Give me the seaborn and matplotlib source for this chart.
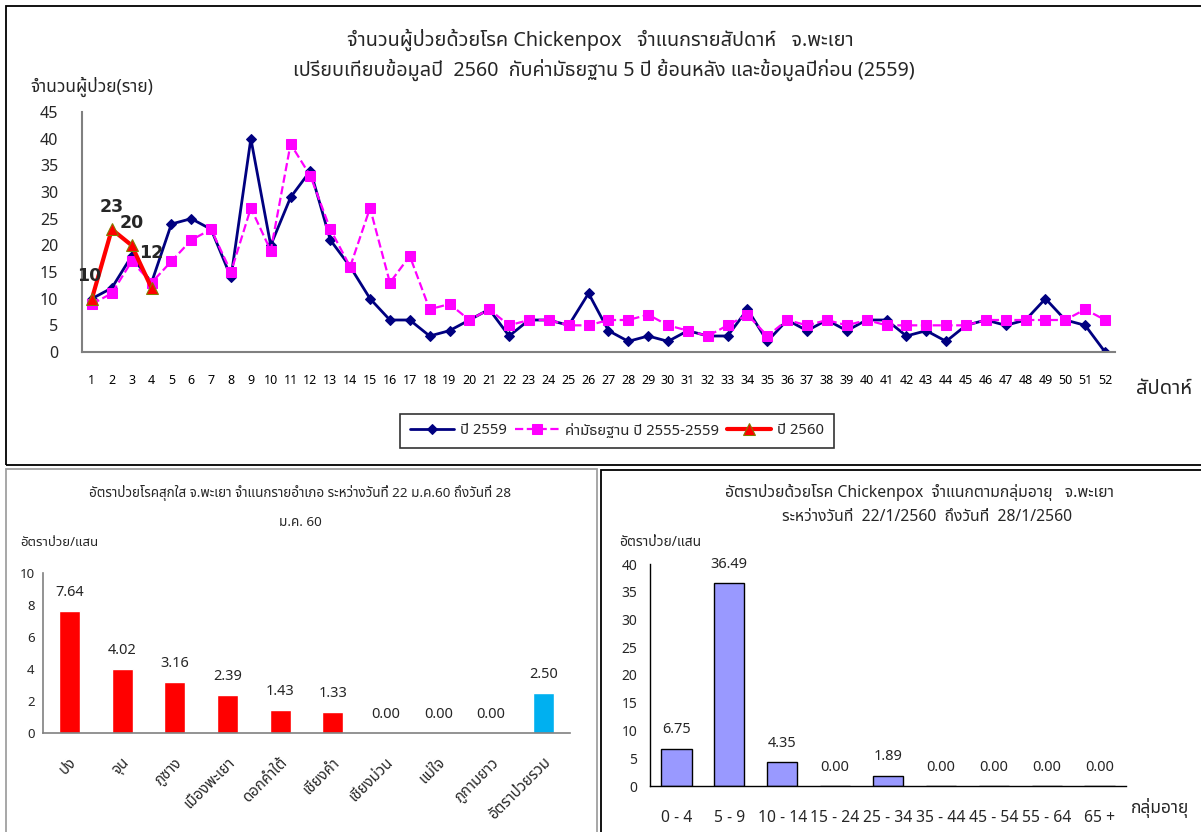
import matplotlib
matplotlib.use("Agg")
import matplotlib.pyplot as plt
import seaborn as sns
import numpy as np
import pandas as pd
from matplotlib import font_manager
from matplotlib.patches import Rectangle

# ---------------- data ----------------
weeks = list(range(1, 53))
y2559 = [10, 12, 18, 13, 24, 25, 23, 14, 40, 20, 29, 34, 21, 16, 10, 6, 6, 3, 4, 6,
         8, 3, 6, 6, 5, 11, 4, 2, 3, 2, 4, 3, 3, 8, 2, 6, 4, 6, 4, 6,
         6, 3, 4, 2, 5, 6, 5, 6, 10, 6, 5, 0]
median_5y = [9, 11, 17, 13, 17, 21, 23, 15, 27, 19, 39, 33, 23, 16, 27, 13, 18, 8, 9, 6,
             8, 5, 6, 6, 5, 5, 6, 6, 7, 5, 4, 3, 5, 7, 3, 6, 5, 6, 5, 6,
             5, 5, 5, 5, 5, 6, 6, 6, 6, 6, 8, 6]
weeks_2560 = [1, 2, 3, 4]
y2560 = [10, 23, 20, 12]

districts = ["ปง", "จุน", "ภูซาง", "เมืองพะเยา", "ดอกคำใต้", "เชียงคำ",
             "เชียงม่วน", "แม่ใจ", "ภูกามยาว", "อัตราป่วยรวม"]
district_rates = [7.64, 4.02, 3.16, 2.39, 1.43, 1.33, 0.00, 0.00, 0.00, 2.50]

age_groups = ["0 - 4", "5 - 9", "10 - 14", "15 - 24", "25 - 34", "35 - 44",
              "45 - 54", "55 - 64", "65 +"]
age_rates = [6.75, 36.49, 4.35, 0.00, 1.89, 0.00, 0.00, 0.00, 0.00]

# ---------------- fonts ----------------
def find_thai_family():
    try:
        from fontTools.ttLib import TTFont
    except Exception:
        return None
    found = []
    for f in font_manager.fontManager.ttflist:
        try:
            t = TTFont(f.fname, fontNumber=0, lazy=True)
            cmap = t.getBestCmap()
            if cmap and 0x0E08 in cmap and 0x0E33 in cmap and 0x0E49 in cmap:
                found.append(f.name)
        except Exception:
            pass
    pref = ["Tahoma", "Noto Sans Thai", "Noto Sans Thai UI", "Loma", "Garuda",
            "Sarabun", "Kinnari", "Norasi", "Tlwg Typo"]
    for p in pref:
        if p in found:
            return p
    return found[0] if found else None

sns.set_theme(style="white")
thai = find_thai_family()
fams = ([thai] if thai else []) + ["DejaVu Sans"]
plt.rcParams["font.family"] = fams

W, H = 1201, 832
fig = plt.figure(figsize=(W / 100, H / 100), dpi=100)
fig.patch.set_facecolor("white")

def rect(l, t, r, b):
    return [l / W, 1 - b / H, (r - l) / W, (b - t) / H]

def fx(x):
    return x / W

def fy(y):
    return 1 - y / H

# panel borders
fig.add_artist(Rectangle((fx(6), fy(465)), (1215 - 6) / W, (465 - 6) / H,
                         transform=fig.transFigure, fill=False, ec="black", lw=1.3))
fig.add_artist(Rectangle((fx(6), fy(840)), (597 - 6) / W, (840 - 469) / H,
                         transform=fig.transFigure, fill=False, ec="#a0a0a0", lw=1.3))
fig.add_artist(Rectangle((fx(601), fy(840)), (1215 - 601) / W, (840 - 470) / H,
                         transform=fig.transFigure, fill=False, ec="black", lw=1.3))

axis_gray = "#808080"

# ---------------- top chart ----------------
ax = fig.add_axes(rect(82, 112, 1115, 352))
sns.lineplot(x=weeks, y=y2559, ax=ax, color="#000080", lw=2, marker="D",
             markersize=5, markeredgecolor="#000080", label="ปี 2559")
sns.lineplot(x=weeks, y=median_5y, ax=ax, color="#FF00FF", lw=1.6, linestyle="--",
             marker="s", markersize=7, markeredgecolor="#FF00FF",
             label="ค่ามัธยฐาน ปี 2555-2559")
sns.lineplot(x=weeks_2560, y=y2560, ax=ax, color="#FF0000", lw=3, marker="^",
             markersize=8, markerfacecolor="#FF0000", markeredgecolor="#808000",
             label="ปี 2560")
label_offsets = [(-2, 16), (0, 16), (0, 16), (0, 25)]
for xv, yv, off in zip(weeks_2560, y2560, label_offsets):
    ax.annotate(str(yv), (xv, yv), xytext=off, textcoords="offset points",
                ha="center", va="center", fontsize=12.5, fontweight="bold",
                family=["DejaVu Sans"])
ax.set_xlim(0.5, 52.5)
ax.set_ylim(0, 45)
ax.set_yticks(range(0, 46, 5))
ax.set_xticks(weeks)
ax.set_xticklabels([str(w) for w in weeks])
ax.set_xticks(np.arange(0.5, 53, 1), minor=True)
ax.tick_params(axis="x", which="major", length=0, pad=16, labelsize=9, colors="black")
ax.tick_params(axis="x", which="minor", length=5, width=1, color="black", direction="out")
ax.tick_params(axis="y", which="major", length=5, width=1, color="black",
               direction="out", labelsize=11.5, pad=12)
for s in ["top", "right"]:
    ax.spines[s].set_visible(False)
for s in ["left", "bottom"]:
    ax.spines[s].set_color(axis_gray)
    ax.spines[s].set_linewidth(1.5)
ax.set_xlabel("")
ax.set_ylabel("")
ax.grid(False)
ax.set_facecolor("white")
handles, labels = ax.get_legend_handles_labels()
ax.get_legend().remove()
leg = fig.legend(handles, labels, loc="center", ncol=3,
                 bbox_to_anchor=(fx(617), fy(431)), fontsize=10.7,
                 frameon=True, fancybox=False, handlelength=3.0,
                 columnspacing=0.5, handletextpad=0.4, borderpad=0.65)
leg.get_frame().set_edgecolor("black")
leg.get_frame().set_linewidth(1.2)

fig.text(fx(600), fy(40), "จำนวนผู้ป่วยด้วยโรค Chickenpox   จำแนกรายสัปดาห์   จ.พะเยา",
         ha="center", va="center", fontsize=14.3, fontweight="bold")
fig.text(fx(604), fy(70), "เปรียบเทียบข้อมูลปี  2560  กับค่ามัธยฐาน 5 ปี ย้อนหลัง และข้อมูลปีก่อน (2559)",
         ha="center", va="center", fontsize=14.2, fontweight="bold")
fig.text(fx(30), fy(87), "จำนวนผู้ป่วย(ราย)", ha="left", va="center",
         fontsize=12.5, fontweight="bold")
fig.text(fx(1136), fy(389), "สัปดาห์", ha="left", va="center", fontsize=14.5,
         fontweight="bold")

# ---------------- bottom-left chart ----------------
ax2 = fig.add_axes(rect(43, 573, 570, 733))
bar_colors = ["#FF0000"] * (len(districts) - 1) + ["#00B0F0"]
df_d = pd.DataFrame({"district": districts, "rate": district_rates})
sns.barplot(data=df_d, x="district", y="rate", hue="district", palette=bar_colors,
            legend=False, width=0.4, ax=ax2, saturation=1)
for c in ax2.containers:
    ax2.bar_label(c, labels=[f"{v:.2f}" for v in c.datavalues], padding=8, fontsize=10.5)
ax2.set_ylim(0, 10)
ax2.set_yticks(range(0, 11, 2))
ax2.set_xlim(-0.5, len(districts) - 0.5)
ax2.set_xlabel("")
ax2.set_ylabel("")
ax2.tick_params(axis="y", length=4, direction="out", color=axis_gray, labelsize=9.5, pad=2)
ax2.tick_params(axis="x", length=0, pad=16, labelsize=10.8)
plt.setp(ax2.get_xticklabels(), rotation=45, ha="right", rotation_mode="anchor")
for s in ["top", "right"]:
    ax2.spines[s].set_visible(False)
for s in ["left", "bottom"]:
    ax2.spines[s].set_color(axis_gray)
    ax2.spines[s].set_linewidth(1.2)
ax2.set_facecolor("white")
fig.text(fx(300), fy(493), "อัตราป่วยโรคสุกใส จ.พะเยา จำแนกรายอำเภอ ระหว่างวันที่ 22 ม.ค.60 ถึงวันที่ 28",
         ha="center", va="center", fontsize=9.7)
fig.text(fx(300), fy(522), "ม.ค. 60", ha="center", va="center", fontsize=9.7)
fig.text(fx(20), fy(543), "อัตราป่วย/แสน", ha="left", va="center", fontsize=9.5,
         fontweight="bold")

# ---------------- bottom-right chart ----------------
ax3 = fig.add_axes(rect(650, 564, 1126, 786))
df_a = pd.DataFrame({"age": age_groups, "rate": age_rates})
sns.barplot(data=df_a, x="age", y="rate", color="#9999FF", width=0.57,
            edgecolor="black", linewidth=1, ax=ax3, saturation=1)
for c in ax3.containers:
    ax3.bar_label(c, labels=[f"{v:.2f}" for v in c.datavalues], padding=8, fontsize=10.5)
ax3.set_ylim(0, 40)
ax3.set_yticks(range(0, 41, 5))
ax3.set_xlim(-0.5, len(age_groups) - 0.5)
ax3.set_xticks(np.arange(-0.5, len(age_groups), 1), minor=True)
ax3.set_xlabel("")
ax3.set_ylabel("")
ax3.tick_params(axis="x", which="major", length=0, pad=17, labelsize=11.3)
ax3.tick_params(axis="x", which="minor", length=5, width=1, color="black", direction="out")
ax3.tick_params(axis="y", length=5, width=1, direction="out", color="black",
                labelsize=10, pad=4)
for s in ["top", "right"]:
    ax3.spines[s].set_visible(False)
for s in ["left", "bottom"]:
    ax3.spines[s].set_color("black")
    ax3.spines[s].set_linewidth(1)
ax3.set_facecolor("white")
fig.text(fx(919), fy(493), "อัตราป่วยด้วยโรค Chickenpox  จำแนกตามกลุ่มอายุ   จ.พะเยา",
         ha="center", va="center", fontsize=11.3)
fig.text(fx(927), fy(517), "ระหว่างวันที่  22/1/2560  ถึงวันที่  28/1/2560",
         ha="center", va="center", fontsize=11.3)
fig.text(fx(619), fy(543), "อัตราป่วย/แสน", ha="left", va="center", fontsize=10)
fig.text(fx(1131), fy(808), "กลุ่มอายุ", ha="left", va="center", fontsize=12.5)

fig.savefig("out.png", dpi=100, facecolor="white")
